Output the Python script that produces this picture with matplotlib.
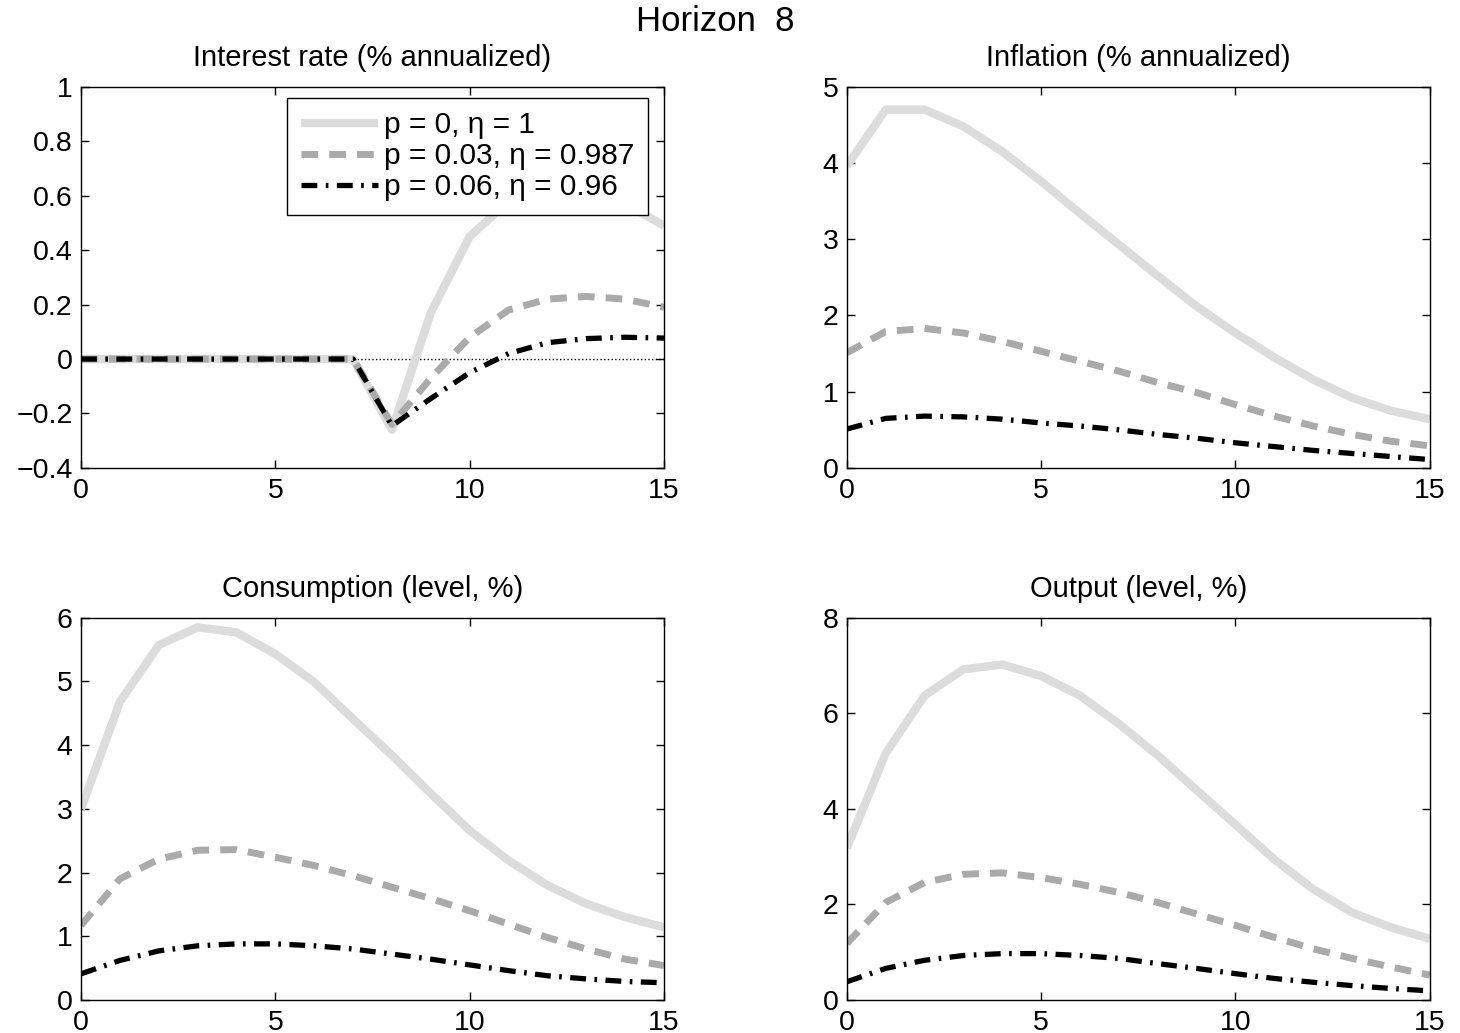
import numpy as np
import matplotlib
matplotlib.use('Agg')
import matplotlib.pyplot as plt

plt.rcParams['font.family'] = ['Liberation Sans', 'DejaVu Sans']

# horizon 0..15
t = np.arange(16)

labels = ['p = 0, η = 1', 'p = 0.03, η = 0.987', 'p = 0.06, η = 0.96']

# interest rate (% annualized)
rate_p0 = [0, 0, 0, 0, 0, 0, 0, 0, -0.26, 0.17, 0.45, 0.58, 0.64, 0.63, 0.57, 0.49]
rate_p3 = [0, 0, 0, 0, 0, 0, 0, 0, -0.24, -0.07, 0.08, 0.18, 0.22, 0.23, 0.22, 0.19]
rate_p6 = [0, 0, 0, 0, 0, 0, 0, 0, -0.245, -0.145, -0.05, 0.02, 0.06, 0.075, 0.08, 0.077]

# inflation (% annualized)
infl_p0 = [3.96, 4.70, 4.70, 4.48, 4.15, 3.76, 3.34, 2.93, 2.52, 2.12, 1.77, 1.45, 1.16, 0.92, 0.75, 0.64]
infl_p3 = [1.51, 1.79, 1.83, 1.77, 1.66, 1.53, 1.40, 1.27, 1.12, 0.99, 0.83, 0.68, 0.55, 0.44, 0.35, 0.29]
infl_p6 = [0.51, 0.65, 0.68, 0.67, 0.64, 0.59, 0.55, 0.50, 0.44, 0.39, 0.33, 0.28, 0.23, 0.19, 0.15, 0.11]

# consumption (level, %)
cons_p0 = [3.0, 4.68, 5.57, 5.85, 5.77, 5.43, 4.99, 4.41, 3.84, 3.24, 2.66, 2.19, 1.80, 1.51, 1.30, 1.14]
cons_p3 = [1.17, 1.90, 2.21, 2.35, 2.36, 2.24, 2.11, 1.95, 1.77, 1.59, 1.40, 1.19, 0.98, 0.80, 0.64, 0.54]
cons_p6 = [0.41, 0.62, 0.77, 0.85, 0.88, 0.88, 0.85, 0.80, 0.72, 0.64, 0.55, 0.46, 0.38, 0.33, 0.29, 0.27]

# output (level, %)
out_p0 = [3.18, 5.16, 6.37, 6.92, 7.02, 6.78, 6.37, 5.78, 5.12, 4.39, 3.67, 2.94, 2.32, 1.83, 1.52, 1.28]
out_p3 = [1.18, 2.04, 2.46, 2.63, 2.66, 2.56, 2.42, 2.25, 2.04, 1.80, 1.56, 1.31, 1.07, 0.87, 0.69, 0.52]
out_p6 = [0.38, 0.66, 0.83, 0.93, 0.97, 0.97, 0.93, 0.87, 0.76, 0.66, 0.55, 0.45, 0.37, 0.30, 0.24, 0.19]

panels = [
    ('Interest rate (% annualized)', [rate_p0, rate_p3, rate_p6], (-0.4, 1), np.arange(-0.4, 1.01, 0.2)),
    ('Inflation (% annualized)', [infl_p0, infl_p3, infl_p6], (0, 5), np.arange(0, 6, 1)),
    ('Consumption (level, %)', [cons_p0, cons_p3, cons_p6], (0, 6), np.arange(0, 7, 1)),
    ('Output (level, %)', [out_p0, out_p3, out_p6], (0, 8), np.arange(0, 9, 2)),
]

styles = [
    dict(color='#dcdcdc', lw=6, ls='-', solid_capstyle='butt'),
    dict(color='#aaaaaa', lw=5, ls=(0, (2.4, 1.6)), dash_capstyle='butt'),
    dict(color='black', lw=3.8, ls=(0, (3, 1.6, 0.5, 1.6)), dash_capstyle='butt'),
]

fig = plt.figure(figsize=(14.6, 10.33), dpi=100)
rects = [[0.0555, 0.547, 0.3993, 0.369],
         [0.580, 0.547, 0.3993, 0.369],
         [0.0555, 0.032, 0.3993, 0.370],
         [0.580, 0.032, 0.3993, 0.370]]

for i, (title, series, ylim, yt) in enumerate(panels):
    ax = fig.add_axes(rects[i])
    if i == 0:
        ax.axhline(0, color='black', lw=1, ls=':', zorder=1)
    for s, st, lab in zip(series, styles, labels):
        ax.plot(t, s, label=lab, **st)
    ax.set_xlim(0, 15)
    ax.set_ylim(*ylim)
    ax.set_xticks([0, 5, 10, 15])
    ax.set_yticks(yt)
    if i == 0:
        ax.set_yticklabels(['\u22120.4', '\u22120.2', '0', '0.2', '0.4', '0.6', '0.8', '1'])
    ax.tick_params(direction='in', top=True, right=True, labelsize=20.5, length=6, width=1)
    ax.tick_params(axis='x', pad=7)
    ax.tick_params(axis='y', pad=6)
    for sp in ax.spines.values():
        sp.set_linewidth(1)
    ax.set_title(title, fontsize=21, pad=15)
    if i == 0:
        leg = ax.legend(loc='upper right', bbox_to_anchor=(0.973, 0.971), borderaxespad=0,
                        fancybox=False, edgecolor='black', fontsize=21.5, handlelength=2.6,
                        handletextpad=0.2, labelspacing=0.1, borderpad=0.45, framealpha=1)
        leg.get_frame().set_linewidth(1)

fig.text(0.49, 0.979, 'Horizon  8', ha='center', va='center', fontsize=25)

fig.savefig('out.png', dpi=100)
